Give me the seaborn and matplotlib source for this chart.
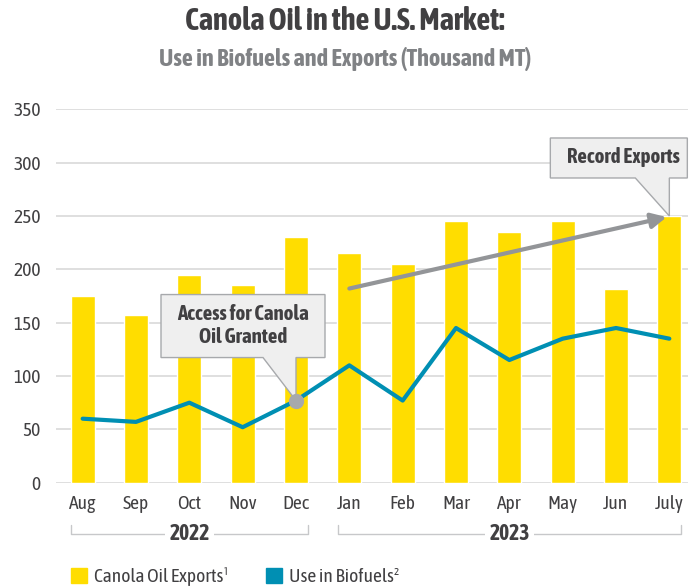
import numpy as np
import pandas as pd
import matplotlib.pyplot as plt
import matplotlib.transforms as mtransforms
import seaborn as sns
from matplotlib.patches import Patch, Polygon

months = ['Aug', 'Sep', 'Oct', 'Nov', 'Dec', 'Jan', 'Feb', 'Mar', 'Apr', 'May', 'Jun', 'July']
exports = [175, 157, 195, 185, 230, 215, 205, 245, 235, 245, 182, 250]
biofuels = [60, 57, 75, 52, 77, 110, 77, 145, 115, 135, 145, 135]
years = ['2022', '2023']
year_spans = [(0, 4), (5, 11)]

YELLOW = '#FFDD00'
BLUE = '#008FB3'
GREY = '#939598'
TEXT = '#414042'
BOX = '#efefef'
BOX_EDGE = '#a7a9ac'

sns.set_style('white')
plt.rcParams['font.family'] = ['Asap Condensed', 'DejaVu Sans']

df = pd.DataFrame({'month': months, 'exports': exports, 'biofuels': biofuels, 'x': np.arange(len(months))})

fig = plt.figure(figsize=(6.9, 5.86), dpi=100)
ax = fig.add_axes([56 / 690, 1 - 482.7 / 586, 632 / 690, (482.7 - 109.3) / 586])

sns.barplot(data=df, x='month', y='exports', color=YELLOW, width=0.45, saturation=1, ax=ax, zorder=2)
sns.lineplot(data=df, x='x', y='biofuels', color=BLUE, linewidth=3, ax=ax, zorder=3)

ax.set_xlim(-0.5, 11.35)
ax.set_ylim(0, 350)
ax.set_yticks(np.arange(0, 351, 50))
ax.set_xticks(df['x'])
ax.set_xticklabels(months)
ax.yaxis.grid(True, color='#d9d9d9', linewidth=1.2, zorder=0)
ax.set_axisbelow(True)
for s in ax.spines.values():
    s.set_visible(False)
ax.tick_params(axis='both', length=0, labelsize=14, colors=TEXT)
ax.tick_params(axis='y', pad=11)
ax.tick_params(axis='x', pad=9)
ax.set_xlabel('')
ax.set_ylabel('')

# titles
fig.text(0.5, 0.964, 'Canola Oil in the U.S. Market:', ha='center', va='center',
         fontsize=22, fontweight='bold', color=TEXT)
fig.text(0.5, 0.899, 'Use in Biofuels and Exports (Thousand MT)', ha='center', va='center',
         fontsize=17.5, fontweight='bold', color='#808285')

# year brackets
for yr, (a, b) in zip(years, year_spans):
    y0 = -0.137
    ax.plot([a - 0.22, a - 0.22, b + 0.22, b + 0.22], [y0 + 0.024, y0, y0, y0 + 0.024],
            transform=ax.get_xaxis_transform(), color='#c7c8ca', lw=1, clip_on=False)
    ax.text((a + b) / 2, y0, yr, transform=ax.get_xaxis_transform(), ha='center', va='center',
            fontsize=15.5, fontweight='bold', color=TEXT,
            bbox=dict(boxstyle='square,pad=0.2', fc='white', ec='none'))

# trend arrow
ax.annotate('', xy=(10.95, 249), xytext=(5, 182),
            arrowprops=dict(arrowstyle='-|>,head_length=0.9,head_width=0.45', color=GREY, lw=3,
                            shrinkA=0, shrinkB=0), zorder=4)


def callout(x, y, text, left, right, bottom, top, base, tx, ty):
    # box with pointer, sized in pixels around the data point (x, y)
    tr = mtransforms.ScaledTranslation(x, y, ax.transData)
    pts = [(left, bottom), (left, top), (right, top), (right, bottom),
           (0, bottom), (0, 0), (-base, bottom)]
    ax.add_patch(Polygon(pts, closed=True, transform=tr, fc=BOX, ec=BOX_EDGE, lw=1,
                         zorder=6, clip_on=False))
    ax.annotate(text, xy=(x, y), xytext=(tx, ty), textcoords='offset pixels', ha='center',
                va='center', fontsize=15, fontweight='bold', color=TEXT, linespacing=1.15,
                zorder=7)


ax.plot(4, biofuels[4], 'o', color='#a7a9ac', markersize=10, zorder=8)
callout(4, biofuels[4], 'Access for Canola\nOil Granted', -135, 29, 43, 106, 33, -53, 75)
callout(11, exports[11], 'Record Exports', -119, 18, 38, 78, 34, -46, 59)

# legend
handles = [Patch(color=YELLOW, label='Canola Oil Exports¹'), Patch(color=BLUE, label='Use in Biofuels²')]
fig.legend(handles=handles, loc='center left', bbox_to_anchor=(71 / 690, 0.016), ncol=2,
           frameon=False, borderpad=0, borderaxespad=0, fontsize=14, handlelength=0.82,
           handleheight=0.82, handletextpad=0.36, columnspacing=1.9, labelcolor=TEXT)

fig.savefig('out.png', dpi=100)
